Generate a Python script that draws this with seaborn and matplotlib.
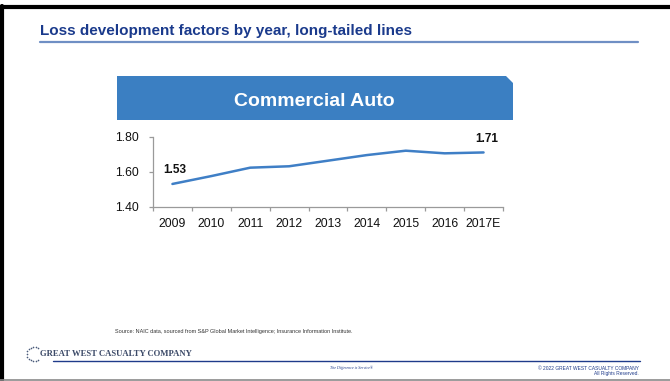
import matplotlib
matplotlib.use("Agg")
import matplotlib.pyplot as plt
import matplotlib.patches as mpatches
from matplotlib.lines import Line2D
import seaborn as sns
import pandas as pd
import numpy as np

# Data
years = ["2009", "2010", "2011", "2012", "2013", "2014", "2015", "2016", "2017E"]
ldf = [1.53, 1.575, 1.623, 1.631, 1.663, 1.695, 1.72, 1.705, 1.71]
y_ticks = [1.40, 1.60, 1.80]
labeled_years = ["2009", "2017E"]

title = "Loss development factors by year, long-tailed lines"
banner = "Commercial Auto"
source = ("Source: NAIC data, sourced from S&P Global Market Intelligence; "
          "Insurance Information Institute.")

W, H = 670, 381
sns.set_theme(style="white")
plt.rcParams["font.family"] = ["Liberation Sans", "DejaVu Sans"]

fig = plt.figure(figsize=(W / 100, H / 100), dpi=100)
fig.patch.set_facecolor("white")


def fx(x):
    return x / W


def fy(y):
    return 1 - y / H


# slide frame
fig.add_artist(Line2D([0, 1], [fy(7), fy(7)], color="black", lw=3))
fig.add_artist(Line2D([fx(1.5), fx(1.5)], [fy(6), fy(380)], color="black", lw=3))
fig.add_artist(Line2D([0, 1], [fy(379.5), fy(379.5)], color="#8a8a8a", lw=1.2))

# header
fig.text(fx(40), fy(30.5), title, fontsize=11, fontweight="bold",
         color="#1a3a8c", ha="left", va="center")
fig.add_artist(Line2D([fx(40), fx(638)], [fy(41.7), fy(41.7)],
                      color="#6f8fc4", lw=1.6))

# banner
bx0, bx1, by0, by1, cut = 117, 513, 76, 120, 7
banner_pts = [(fx(bx0), fy(by0)), (fx(bx1 - cut), fy(by0)), (fx(bx1), fy(by0 + cut)),
              (fx(bx1), fy(by1)), (fx(bx0), fy(by1))]
fig.add_artist(mpatches.Polygon(banner_pts, closed=True, facecolor="#3b7fc2",
                                edgecolor="none"))
fig.text(fx(314), fy(101), banner, fontsize=14, fontweight="bold",
         color="white", ha="center", va="center")

# chart
ax_l, ax_r, ax_t, ax_b = 153, 503, 136.7, 206.7
ax = fig.add_axes([fx(ax_l), fy(ax_b), fx(ax_r - ax_l), (ax_b - ax_t) / H])
df = pd.DataFrame({"year": years, "ldf": ldf})
df["pos"] = np.arange(len(years))
sns.lineplot(data=df, x="pos", y="ldf", ax=ax, color="#3f7fc6", lw=1.8)
ax.set_xlim(-0.5, len(years) - 0.5)
ax.set_ylim(y_ticks[0], y_ticks[-1])
ax.set_xticks(df["pos"])
ax.set_xticklabels(years)
ax.set_xticks(np.arange(-0.5, len(years)), minor=True)
ax.set_yticks(y_ticks)
ax.set_yticklabels([f"{v:.2f}" for v in y_ticks])
ax.set_xlabel("")
ax.set_ylabel("")
ax.patch.set_alpha(0)
for s in ["top", "right"]:
    ax.spines[s].set_visible(False)
for s in ["left", "bottom"]:
    ax.spines[s].set_color("#9a9a9a")
    ax.spines[s].set_linewidth(0.9)
ax.tick_params(axis="x", which="major", length=0, pad=8, labelsize=8.8, labelcolor="#111111")
ax.tick_params(axis="x", which="minor", length=3, color="#9a9a9a", width=0.9, bottom=True)
ax.tick_params(axis="y", which="major", length=3, color="#9a9a9a", width=0.9, left=True,
               pad=7, labelsize=8.8, labelcolor="#111111")

for yr in labeled_years:
    row = df[df["year"] == yr].iloc[0]
    ax.annotate(f"{row['ldf']:.2f}", (row["pos"], row["ldf"]), xytext=(2, 10),
                textcoords="offset points", ha="center", va="center",
                fontsize=8.5, fontweight="bold", color="#111111",
                annotation_clip=False)

# footer
fig.text(fx(115), fy(332), source, fontsize=3.95, color="#333333",
         ha="left", va="center")
ang = np.linspace(np.pi * 0.3, np.pi * 1.7, 13)
fig.add_artist(Line2D(fx(34 + 7 * np.cos(ang)), fy(354 - 7 * np.sin(ang)),
                      ls="none", marker="o", ms=1.2, color="#4a5a7a", mec="none"))
fig.text(fx(40), fy(354), "GREAT WEST CASUALTY COMPANY", fontsize=6.2,
         fontweight="bold", family=["Liberation Serif", "DejaVu Serif"],
         color="#3c4a68", ha="left", va="center")
fig.add_artist(Line2D([fx(53), fx(640)], [fy(360.7), fy(360.7)],
                      color="#1f3b8a", lw=1.0))
fig.text(fx(330), fy(367.5), "The Difference is Service\u00ae", fontsize=2.9,
         style="italic", family=["Liberation Serif", "DejaVu Serif"],
         color="#1f3b8a", ha="left", va="center")
fig.text(fx(639), fy(368.5), "\u00a9 2022 GREAT WEST CASUALTY COMPANY", fontsize=3.5,
         color="#1f3b8a", ha="right", va="center")
fig.text(fx(639), fy(373.5), "All Rights Reserved.", fontsize=3.5,
         color="#1f3b8a", ha="right", va="center")

fig.savefig("out.png", dpi=100, facecolor="white")
